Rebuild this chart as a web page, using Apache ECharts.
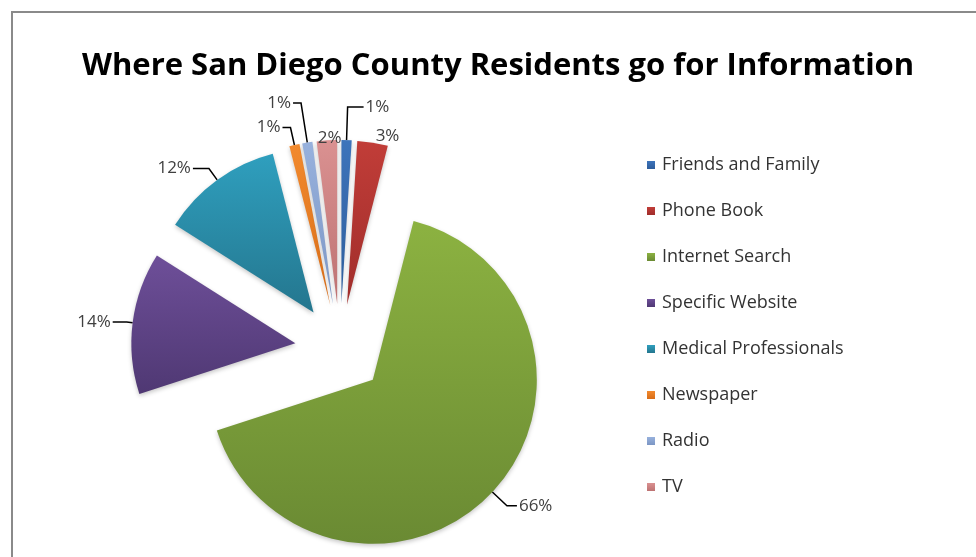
<!DOCTYPE html>
<html>
<head>
<meta charset="utf-8">
<title>Where San Diego County Residents go for Information</title>
<script src="https://cdn.jsdelivr.net/npm/echarts@6/dist/echarts.min.js"></script>
<style>
  html, body { margin: 0; padding: 0; background: #ffffff; }
  #chart { width: 976px; height: 557px; }
</style>
</head>
<body>
<div id="chart"></div>
<script>
// Survey answers: share of residents (%) by information source
const categories = [
  'Friends and Family',
  'Phone Book',
  'Internet Search',
  'Specific Website',
  'Medical Professionals',
  'Newspaper',
  'Radio',
  'TV'
];
const shares = [1, 3, 66, 14, 12, 1, 1, 2];

// Slice fills: top and bottom stops of a soft vertical gradient
const topColors = ['#3d74bb', '#c13d38', '#8cb241', '#6e4f99', '#2f9fbe', '#f28a2e', '#97b1dd', '#da9191'];
const bottomColors = ['#2e5d9b', '#a02d2b', '#6a8a33', '#4f3873', '#24768e', '#d86d18', '#7c96c4', '#bd7272'];

// Leader line lengths per slice: [radial part, horizontal part, visible]
const leaders = [
  [33, 16, true],
  [6, 0, false],
  [20, 10, true],
  [6, 14, true],
  [14, 16, true],
  [18, 8, true],
  [40, 8, true],
  [6, 0, false]
];

const chart = echarts.init(document.getElementById('chart'), null, { renderer: 'canvas' });

const pieData = categories.map((name, i) => ({
  name: name,
  value: shares[i],
  selected: true,
  itemStyle: {
    color: new echarts.graphic.LinearGradient(0, 0, 0, 1, [
      { offset: 0, color: topColors[i] },
      { offset: 1, color: bottomColors[i] }
    ])
  },
  labelLine: {
    show: leaders[i][2],
    length: leaders[i][0],
    length2: leaders[i][1]
  }
}));

chart.setOption({
  animation: false,
  backgroundColor: '#ffffff',
  color: topColors,
  graphic: [{
    type: 'rect',
    shape: { x: 12, y: 12, width: 1000, height: 600 },
    style: { fill: 'none', stroke: '#8a8a8a', lineWidth: 2 },
    silent: true
  }],
  title: {
    text: 'Where San Diego County Residents go for Information',
    left: 77,
    top: 46,
    textStyle: {
      fontFamily: 'Open Sans',
      fontWeight: 'bold',
      fontSize: 31,
      color: '#000000'
    }
  },
  legend: {
    orient: 'vertical',
    left: 642,
    top: 151,
    itemWidth: 8,
    itemHeight: 8,
    itemGap: 28,
    icon: 'rect',
    selectedMode: false,
    data: categories,
    textStyle: {
      fontFamily: 'Open Sans',
      fontSize: 18,
      lineHeight: 18,
      color: '#333333',
      padding: [0, 0, 0, 2]
    }
  },
  series: [{
    type: 'pie',
    center: [340, 349],
    radius: 164,
    startAngle: 90,
    clockwise: true,
    selectedMode: 'multiple',
    selectedOffset: 45,
    avoidLabelOverlap: false,
    itemStyle: {
      shadowBlur: 4,
      shadowOffsetY: 2,
      shadowColor: 'rgba(0,0,0,0.22)'
    },
    select: {
      itemStyle: { borderWidth: 0 }
    },
    label: {
      show: true,
      position: 'outside',
      formatter: '{d}%',
      fontFamily: 'Open Sans',
      fontSize: 17,
      color: '#404040',
      distanceToLabelLine: 2
    },
    labelLine: {
      lineStyle: { color: '#000000', width: 1.5 }
    },
    // the TV label sits just above its own slice, to the right of the radio leader
    labelLayout: function (params) {
      if (params.dataIndex === categories.indexOf('TV')) {
        return { dx: 17, dy: 4 };
      }
      return {};
    },
    emphasis: { disabled: true },
    data: pieData
  }]
});
</script>
</body>
</html>
